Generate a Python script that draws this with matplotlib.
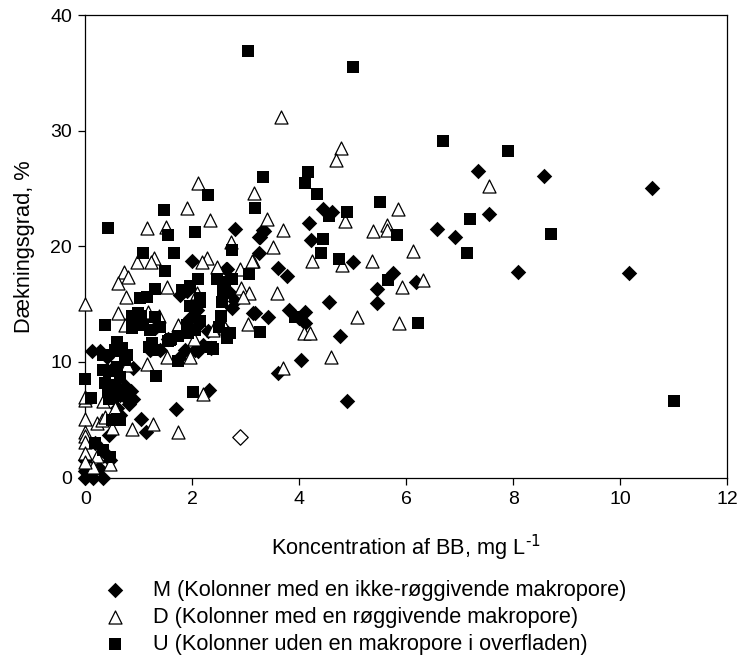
import matplotlib
matplotlib.use("Agg")
import matplotlib.pyplot as plt

plt.rcParams["font.family"] = ["Liberation Sans", "DejaVu Sans"]

# M: columns with a non-smoking macropore
m_x = [7.35, 8.57, 10.6, 7.55, 8.1, 10.17, 4.9, 4.03, 3.6, 2.31, 1.7, 1.04, 1.13, 0.82,
       6.57, 6.91, 4.44, 4.61, 4.18, 4.23, 3.34, 3.25, 3.25, 3.6, 3.77, 5.0, 5.75, 5.45,
       5.45, 6.19, 4.56, 3.17, 3.42, 3.81, 4.11, 4.0, 4.11, 4.76,
       2.8, 3.32, 3.27, 1.99, 2.65, 1.77, 1.9, 2.63, 3.13, 2.09, 1.96, 1.3, 1.21, 1.4,
       1.86, 2.05, 2.2, 2.57, 2.7, 2.8, 2.75,
       0.12, 0.27, 0.41, 0.89, 0.65, 0.74, 0.65, 0.44, 0.46, 0.56, 0.52,
       0.0, 0.15, 0.33, 0.0, 0.18, 0.33, 0.46, 0.0, 0.08, 0.25,
       1.75, 2.1, 2.35, 2.1, 2.3, 1.55, 1.85, 0.75, 0.85, 0.9, 0.6]
m_y = [26.5, 26.1, 25.0, 22.8, 17.8, 17.7, 6.6, 10.2, 9.0, 7.6, 5.9, 5.1, 3.9, 6.4,
       21.5, 20.8, 23.2, 23.0, 22.0, 20.5, 21.3, 20.8, 19.4, 18.1, 17.4, 18.6, 17.7, 16.3,
       15.1, 16.9, 15.2, 14.2, 13.9, 14.5, 14.3, 13.8, 13.4, 12.2,
       21.5, 21.4, 20.8, 18.7, 18.0, 15.8, 16.1, 18.0, 14.2, 14.5, 13.8, 12.9, 11.0, 11.0,
       11.0, 11.0, 11.5, 12.9, 16.0, 15.3, 14.7,
       10.9, 10.9, 10.4, 9.5, 7.1, 7.0, 5.4, 3.7, 7.3, 7.8, 9.5,
       0.0, 0.0, 0.0, 1.5, 3.0, 2.3, 1.5, 0.6, 0.3, 0.8,
       10.3, 10.9, 11.2, 13.2, 12.7, 12.0, 12.7, 7.9, 7.5, 6.8, 6.0]

# D: columns with a smoking macropore
d_x = [3.66, 4.78, 4.69, 5.85, 3.15, 3.4, 3.7, 4.85, 5.38, 5.64, 5.64, 6.13, 3.51, 4.24,
       4.8, 5.36, 5.92, 6.31, 3.13, 3.58, 5.08, 5.86, 4.09, 7.55, 3.7, 4.6, 4.2, 2.2,
       1.73, 1.27, 0.0, 2.11, 1.9, 2.33, 1.15, 1.51, 2.72, 2.28, 2.19, 1.28, 0.97, 1.23,
       3.12, 2.46, 2.89, 0.72, 0.8, 0.61, 1.53, 0.76, 2.09, 2.91, 3.06, 2.95,
       0.61, 1.17, 1.38, 0.74, 1.73, 2.03, 1.53, 1.96, 1.16, 0.78, 3.04, 2.61, 2.39,
       0.0, 0.0, 0.33, 0.56, 0.0, 0.22, 0.31, 0.37, 0.5, 0.87, 0.0, 0.0, 0.0, 0.22,
       0.46, 0.0, 0.15, 0.0]
d_y = [31.2, 28.5, 27.5, 23.2, 24.6, 22.4, 21.4, 22.2, 21.3, 21.8, 21.4, 19.6, 19.9, 18.7,
       18.4, 18.7, 16.5, 17.1, 18.7, 16.0, 13.9, 13.4, 12.5, 25.2, 9.5, 10.4, 12.5, 7.2,
       3.9, 4.6, 15.0, 25.5, 23.3, 22.3, 21.6, 21.7, 20.4, 19.0, 18.6, 19.0, 18.6, 18.6,
       18.7, 18.2, 18.0, 17.8, 17.3, 16.8, 16.5, 15.6, 16.0, 16.4, 16.0, 15.6,
       14.2, 14.3, 14.0, 13.2, 13.2, 12.0, 10.4, 10.4, 9.8, 9.7, 13.3, 12.9, 12.8,
       6.7, 7.0, 6.6, 6.0, 5.1, 4.7, 5.0, 5.2, 4.3, 4.2, 3.9, 3.6, 3.1, 1.9,
       1.2, 2.1, 0.9, 1.3]

# U: columns without a macropore in the surface
u_x = [3.05, 5.0, 6.69, 7.9, 4.16, 4.11, 3.32, 4.33, 2.3, 3.18, 1.48, 4.89, 4.56, 5.52,
       0.43, 1.54, 2.05, 5.82, 8.7, 7.2, 7.13, 1.07, 1.66, 2.75, 4.4, 4.45, 4.74, 3.07,
       2.11, 5.66, 6.22, 11.0, 1.49, 2.46, 2.75, 1.96, 1.81, 1.3, 1.15, 1.02, 2.14, 2.57,
       2.61, 1.96, 2.53, 0.37, 0.87, 0.98, 0.87, 1.08, 1.21, 2.05, 2.14, 1.25, 1.58, 1.73,
       1.92, 2.65, 3.27, 2.39, 1.73, 1.32, 2.01, 0.59, 0.69, 0.78, 0.33, 0.33, 0.65, 0.0,
       0.37, 0.11, 0.43, 0.52, 0.59, 0.18, 0.46, 0.33, 3.92,
       0.6, 0.75, 0.45, 0.6, 0.55, 0.75, 0.45, 0.65, 0.5, 0.55, 1.2, 1.3, 1.55, 1.3, 1.05,
       1.9, 2.05, 2.35, 2.65, 2.55, 2.6, 2.15, 1.4, 1.6, 2.5, 2.7]
u_y = [36.9, 35.5, 29.1, 28.2, 26.4, 25.5, 26.0, 24.5, 24.4, 23.3, 23.1, 23.0, 22.6, 23.8,
       21.6, 21.0, 21.2, 21.0, 21.1, 22.4, 19.4, 19.4, 19.4, 19.7, 19.4, 20.6, 18.9, 17.6,
       17.2, 17.1, 13.4, 6.6, 17.9, 17.2, 17.2, 16.6, 16.2, 16.3, 15.6, 15.5, 15.5, 16.2,
       16.5, 14.8, 14.0, 13.2, 14.0, 14.2, 12.9, 13.2, 12.8, 13.9, 13.5, 11.6, 11.9, 12.2,
       12.5, 12.2, 12.6, 11.1, 10.1, 8.8, 7.4, 11.7, 11.2, 10.6, 10.6, 9.3, 8.7, 8.5,
       8.2, 6.9, 7.4, 7.0, 5.1, 3.0, 1.8, 2.4, 13.9,
       10.9, 10.2, 9.2, 9.6, 8.0, 7.6, 6.8, 5.0, 5.0, 11.0, 11.3, 11.0, 11.8, 13.9, 14.0,
       13.2, 12.8, 11.3, 12.1, 15.2, 16.9, 15.2, 13.0, 12.0, 13.0, 12.5]

# stray open diamond, not in the legend
o_x = [2.9]
o_y = [3.5]

x_ticks = [0, 2, 4, 6, 8, 10, 12]
y_ticks = [0, 10, 20, 30, 40]

fig = plt.figure(figsize=(7.38, 6.59), dpi=100)
ax = fig.add_axes([85.3 / 738, 1 - 477.5 / 659, (727 - 85.3) / 738, (477.5 - 15) / 659])

p_m = ax.scatter(m_x, m_y, marker="D", s=62, c="black", linewidths=0, clip_on=False, zorder=3,
                 label="M (Kolonner med en ikke-røggivende makropore)")
p_d = ax.scatter(d_x, d_y, marker="^", s=88, c="white", edgecolors="black", linewidths=0.9,
                 clip_on=False, zorder=4, label="D (Kolonner med en røggivende makropore)")
p_u = ax.scatter(u_x, u_y, marker="s", s=72, c="black", linewidths=0, clip_on=False, zorder=5,
                 label="U (Kolonner uden en makropore i overfladen)")
ax.scatter(o_x, o_y, marker="D", s=62, c="white", edgecolors="black", linewidths=0.9, zorder=4)

ax.set_xlim(0, 12)
ax.set_ylim(0, 40)
ax.set_xticks(x_ticks)
ax.set_yticks(y_ticks)
ax.tick_params(direction="out", length=5, width=0.9, labelsize=14, pad=4.5)
for s in ax.spines.values():
    s.set_linewidth(0.9)

ax.set_xlabel(r"Koncentration af BB, mg L$^{\text{-1}}$", fontsize=15.7, labelpad=18)
ax.set_ylabel("Dækningsgrad, %", fontsize=15.7, labelpad=11)

fig.legend(handles=[p_m, p_d, p_u], loc="upper left", bbox_to_anchor=(93 / 738, 1 - 580 / 659),
           bbox_transform=fig.transFigure, frameon=False, fontsize=15.7, labelspacing=0.28,
           handletextpad=0.74, borderpad=0, borderaxespad=0, scatterpoints=1)

fig.savefig("out.png", dpi=100)
